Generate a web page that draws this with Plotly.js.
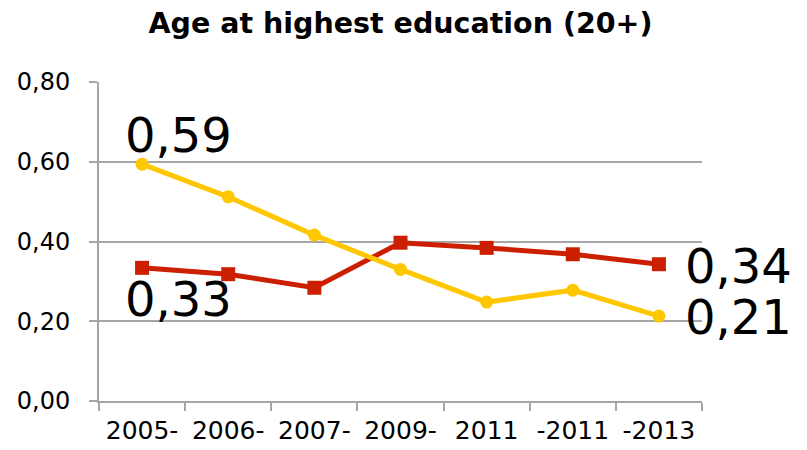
<!DOCTYPE html>
<html>
<head>
<meta charset="utf-8">
<script src="https://cdn.plot.ly/plotly-3.0.1.min.js"></script>
<style>html,body{margin:0;padding:0;background:#fff;}#chart{width:807px;height:450px;}</style>
</head>
<body>
<div id="chart"></div>
<script>
var categories = ["2005-", "2006-", "2007-", "2009-", "2011", "-2011", "-2013"];
var yellowValues = [0.594, 0.512, 0.416, 0.330, 0.248, 0.278, 0.213];
var redValues = [0.334, 0.318, 0.284, 0.397, 0.384, 0.368, 0.343];
var yTicks = [0, 0.2, 0.4, 0.6, 0.8];
var titleText = "Age at highest education (20+)";

function fmt(v) { return v.toFixed(2).replace('.', ','); }

var gridCol = '#a6a6a6';
var fontFam = '"DejaVu Sans", Verdana, sans-serif';

var traces = [
  {
    x: categories, y: redValues, type: 'scatter', mode: 'lines+markers',
    line: {color: '#cc1f00', width: 5},
    marker: {symbol: 'square', size: 14, color: '#cc1f00'},
    hoverinfo: 'skip', showlegend: false
  },
  {
    x: categories, y: yellowValues, type: 'scatter', mode: 'lines+markers',
    line: {color: '#ffc700', width: 5},
    marker: {symbol: 'circle', size: 13, color: '#ffc700'},
    hoverinfo: 'skip', showlegend: false
  }
];

var first = 0, last = categories.length - 1;
var annFont = {family: fontFam, size: 48, color: '#000'};
var annotations = [
  {x: first, y: yellowValues[first], xref: 'x', yref: 'y', text: fmt(yellowValues[first]),
   showarrow: false, xanchor: 'left', yanchor: 'middle', xshift: -19, yshift: 29, font: annFont},
  {x: first, y: redValues[first], xref: 'x', yref: 'y', text: fmt(redValues[first]),
   showarrow: false, xanchor: 'left', yanchor: 'middle', xshift: -19, yshift: -31, font: annFont},
  {x: last, y: redValues[last], xref: 'x', yref: 'y', text: fmt(redValues[last]),
   showarrow: false, xanchor: 'left', yanchor: 'middle', xshift: 24, yshift: -2, font: annFont},
  {x: last, y: yellowValues[last], xref: 'x', yref: 'y', text: fmt(yellowValues[last]),
   showarrow: false, xanchor: 'left', yanchor: 'middle', xshift: 24, yshift: -1, font: annFont}
];

var layout = {
  width: 807, height: 450,
  margin: {l: 99, r: 105, t: 82, b: 49, pad: 0},
  paper_bgcolor: '#fff', plot_bgcolor: '#fff',
  separators: ',.',
  font: {family: fontFam, color: '#000'},
  title: {
    text: titleText, x: 0.5, xref: 'paper', xanchor: 'center',
    y: 1 - 22.7 / 450, yref: 'container', yanchor: 'middle',
    font: {family: fontFam, size: 28.5, weight: 'bold', color: '#000'}
  },
  xaxis: {
    type: 'category', range: [-0.5, 6.5],
    showgrid: false, zeroline: false,
    showline: true, linecolor: gridCol, linewidth: 2,
    ticks: 'outside', tickson: 'boundaries', ticklen: 8, tickwidth: 2, tickcolor: gridCol,
    tickfont: {family: fontFam, size: 25, color: '#000'},
    ticklabelstandoff: 6,
    fixedrange: true
  },
  yaxis: {
    range: [0, 0.8], tickvals: yTicks, tickformat: '.2f',
    showgrid: true, gridcolor: gridCol, gridwidth: 2,
    zeroline: false,
    showline: true, linecolor: gridCol, linewidth: 2,
    ticks: 'outside', ticklen: 8, tickwidth: 2, tickcolor: gridCol,
    tickfont: {family: fontFam, size: 24, color: '#000'},
    ticklabelstandoff: 14,
    fixedrange: true
  },
  annotations: annotations
};

Plotly.newPlot('chart', traces, layout, {displayModeBar: false, staticPlot: true});
</script>
</body>
</html>
